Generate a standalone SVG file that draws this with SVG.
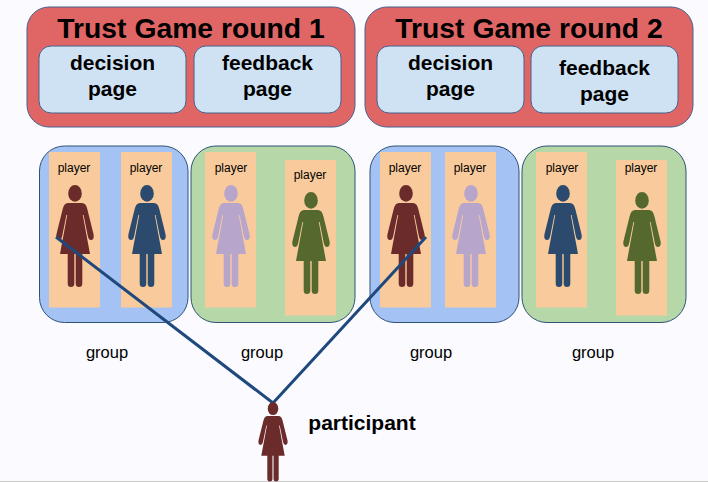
<svg xmlns="http://www.w3.org/2000/svg" xmlns:xlink="http://www.w3.org/1999/xlink" width="708" height="482" viewBox="0 0 708 482">
<style>
text{font-family:"Liberation Sans",Arial,sans-serif;fill:#000;text-anchor:middle}
.round{fill:#e06666;stroke:#44608c;stroke-width:1}
.page{fill:#cfe2f3;stroke:#44608c;stroke-width:1}
.blue{fill:#a4c2f4;stroke:#2f5377;stroke-width:1}
.green{fill:#b6d7a8;stroke:#2f5377;stroke-width:1}
.card{fill:#f9cb9c}
.title{font-size:28.300px;font-weight:700}
.pg{font-size:21px;font-weight:700}
.pl{font-size:12px}
.gr{font-size:16.500px}
.red{fill:#6b2b2b}.navy{fill:#2b4a6e}.lilac{fill:#b7a5cc}.olive{fill:#55692e}
.conn{fill:none;stroke:#1f497d;stroke-width:3}
</style>
<defs>
<g id="fig">
<ellipse cx="0" cy="8.400" rx="6.800" ry="8.400"/>
<path d="M-7,18H7Q11,18 12.300,24L18.600,49.500Q19.400,55 15.800,55Q13.600,55 12.800,51L8.600,30L7.800,30L15,69H-15L-7.800,30L-8.600,30L-12.800,51Q-13.600,55 -15.800,55Q-19.400,55 -18.600,49.500L-12.300,24Q-11,18 -7,18Z"/>
<path d="M-7.300,68H-0.700V98.500A3.300,3.500 0 0 1 -7.300,98.500ZM0.700,68H7.300V98.500A3.300,3.500 0 0 1 0.700,98.500Z"/>
</g>
</defs>
<rect width="708" height="482" fill="#fafaff"/>
<rect x="0" y="481" width="708" height="1" fill="#c9c9c9"/>
<g id="round1">
<rect class="round" x="27" y="7" width="328" height="120" rx="22"/>
<text class="title" x="191" y="38">Trust Game round 1</text>
<rect class="page" x="39" y="46" width="147" height="67" rx="12"/>
<text class="pg" x="112.500" y="70">decision</text><text class="pg" x="112.500" y="96">page</text>
<rect class="page" x="194" y="46" width="147" height="67" rx="12"/>
<text class="pg" x="267.500" y="70">feedback</text><text class="pg" x="267.500" y="96">page</text>
</g>
<g id="round2">
<rect class="round" x="365" y="7" width="328" height="120" rx="22"/>
<text class="title" x="529" y="38">Trust Game round 2</text>
<rect class="page" x="377" y="46" width="147" height="67" rx="12"/>
<text class="pg" x="450.500" y="70">decision</text><text class="pg" x="450.500" y="96">page</text>
<rect class="page" x="531" y="46" width="147" height="67" rx="12"/>
<text class="pg" x="604.500" y="75">feedback</text><text class="pg" x="604.500" y="101">page</text>
</g>
<g id="group1">
<rect class="blue" x="39.500" y="146" width="148.500" height="176.500" rx="25"/>
<rect class="card" x="49" y="152" width="51" height="155.500"/><text class="pl" x="74" y="172">player</text><use xlink:href="#fig" href="#fig" class="red" x="75" y="185"/>
<rect class="card" x="121" y="152" width="51" height="155.500"/><text class="pl" x="146" y="172">player</text><use xlink:href="#fig" href="#fig" class="navy" x="147" y="185"/>
<text class="gr" x="107" y="358">group</text>
</g>
<g id="group2">
<rect class="green" x="191" y="146" width="164" height="176.500" rx="25"/>
<rect class="card" x="205" y="152" width="51" height="155.500"/><text class="pl" x="231" y="172">player</text><use xlink:href="#fig" href="#fig" class="lilac" x="231" y="185"/>
<rect class="card" x="285" y="160" width="51" height="155.500"/><text class="pl" x="310" y="179">player</text><use xlink:href="#fig" href="#fig" class="olive" x="311" y="192"/>
<text class="gr" x="262" y="358">group</text>
</g>
<g id="group3">
<rect class="blue" x="370" y="146" width="149" height="176.500" rx="25"/>
<rect class="card" x="380" y="152" width="51" height="155.500"/><text class="pl" x="405" y="172">player</text><use xlink:href="#fig" href="#fig" class="red" x="406" y="185"/>
<rect class="card" x="445" y="152" width="51" height="155.500"/><text class="pl" x="470" y="172">player</text><use xlink:href="#fig" href="#fig" class="lilac" x="471" y="185"/>
<text class="gr" x="431" y="358">group</text>
</g>
<g id="group4">
<rect class="green" x="522" y="146" width="164" height="176.500" rx="25"/>
<rect class="card" x="536" y="152" width="51" height="155.500"/><text class="pl" x="562" y="172">player</text><use xlink:href="#fig" href="#fig" class="navy" x="563" y="185"/>
<rect class="card" x="616" y="160" width="51" height="155.500"/><text class="pl" x="641" y="172">player</text><use xlink:href="#fig" href="#fig" class="olive" x="642" y="192"/>
<text class="gr" x="593" y="358">group</text>
</g>
<g id="connectors">
<path class="conn" d="M56,237L273,403L426,237"/>
</g>
<g id="participant">
<use xlink:href="#fig" href="#fig" class="red" transform="translate(273,402) scale(.78)"/>
<text x="362" y="430" style="font-size:21px;font-weight:700">participant</text>
</g>
</svg>
